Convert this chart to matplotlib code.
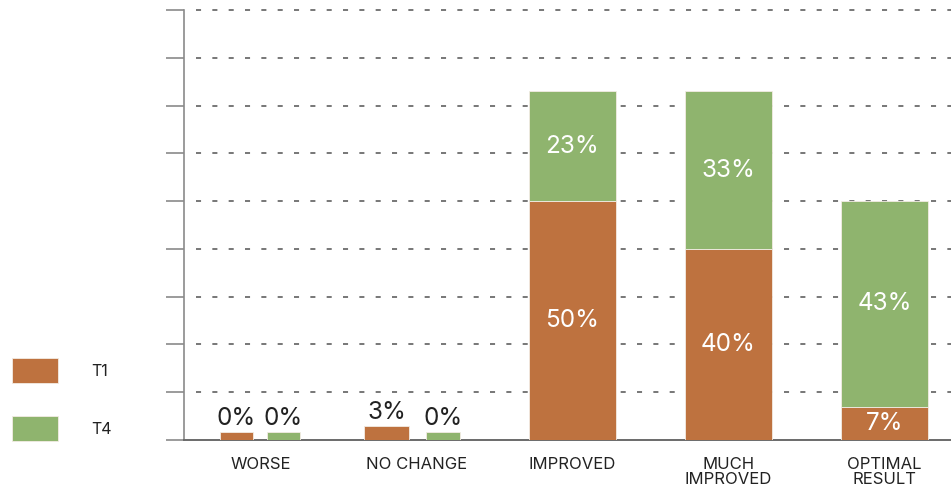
import matplotlib.pyplot as plt
from matplotlib.patches import Rectangle

# outcome categories and percentages per time point
categories = ["WORSE", "NO CHANGE", "IMPROVED", "MUCH\nIMPROVED", "OPTIMAL\nRESULT"]
series_names = ["T1", "T4"]
t1_values = [0, 3, 50, 40, 7]
t4_values = [0, 0, 23, 33, 43]

colors = ["#BE723F", "#8FB46E"]
text_dark = "#222222"
grid_color = "#777777"

plt.rcParams["font.family"] = ["Inter", "DejaVu Sans"]

fig = plt.figure(figsize=(9.51, 4.91), dpi=100)
ax = fig.add_axes([184 / 951, 51 / 491, 767 / 951, 430 / 491])

# zero values still get a sliver so the bar is visible
min_visible = 1.7

# first two categories are drawn side by side, the rest stacked
side_layout = {0: [(-0.155, 0.212), (0.146, 0.212)],
               1: [(-0.19, 0.29), (0.17, 0.212)]}
stack_width = 0.558

for i, cat in enumerate(categories):
    vals = [t1_values[i], t4_values[i]]
    if i in side_layout:
        for (off, w), v, c in zip(side_layout[i], vals, colors):
            h = v if v > 0 else min_visible
            ax.bar(i + off, h, width=w, color=c, edgecolor="#f3ece4",
                   linewidth=0.6, zorder=3)
            ax.text(i + off, h + 0.3, f"{v}%", ha="center", va="bottom",
                    fontsize=17.5, color=text_dark, zorder=4)
    else:
        bottom = 0
        for v, c in zip(vals, colors):
            ax.bar(i, v, width=stack_width, bottom=bottom, color=c,
                   edgecolor="#f3ece4", linewidth=0.6, zorder=3)
            ax.text(i, bottom + v / 2, f"{v}%", ha="center", va="center",
                    fontsize=17.5, color="white", zorder=4)
            bottom += v

# dashed horizontal guides
for y in range(10, 100, 10):
    ax.plot([-0.413, 4.43], [y, y], color=grid_color, linewidth=1.4,
            linestyle=(0, (2.6, 5.8)), zorder=1, clip_on=False)

ax.set_xlim(-0.49, 4.426)
ax.set_ylim(0, 90)
ax.set_yticks(range(0, 100, 10))
ax.set_yticklabels([])
ax.tick_params(axis="y", direction="out", length=13, width=1.2, color="#8a8a8a")
ax.set_xticks([])
for side in ["top", "right"]:
    ax.spines[side].set_visible(False)
ax.spines["left"].set_color("#8a8a8a")
ax.spines["left"].set_linewidth(1.2)
ax.spines["bottom"].set_color("#6a6a6a")
ax.spines["bottom"].set_linewidth(1.4)

# category labels below the axis
for i, cat in enumerate(categories):
    ax.annotate(cat, xy=(i, 0), xytext=(0, -12.5), textcoords="offset points",
                ha="center", va="top", fontsize=12, color=text_dark,
                linespacing=1.0, annotation_clip=False)

# legend boxes on the left
legend_y = [358, 416]
for name, c, y in zip(series_names, colors, legend_y):
    fig.patches.append(Rectangle((12 / 951, 1 - (y + 25) / 491), 46 / 951, 25 / 491,
                                 transform=fig.transFigure, facecolor=c,
                                 edgecolor="#f3ece4", linewidth=0.6))
    fig.text(91 / 951, 1 - (y + 13) / 491, name, ha="left", va="center",
             fontsize=11.5, color=text_dark)

fig.savefig("out.png", dpi=100)
